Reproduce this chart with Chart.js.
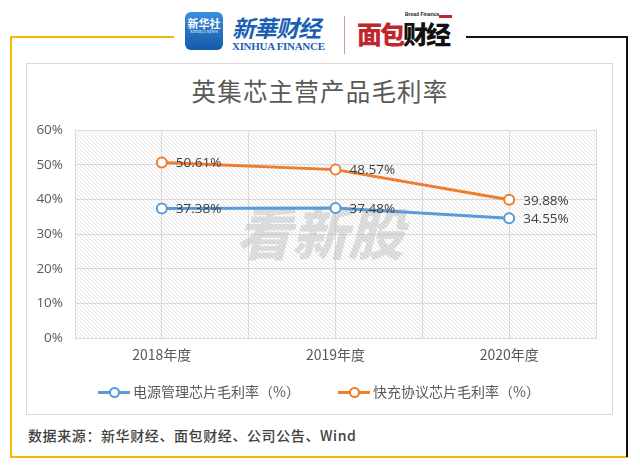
<!DOCTYPE html>
<html>
<head>
<meta charset="utf-8">
<script src="https://cdn.jsdelivr.net/npm/chart.js@4"></script>
<style>
  html, body { margin: 0; padding: 0; background: #fff; }
  body { width: 640px; height: 468px; position: relative; overflow: hidden;
         font-family: "Noto Sans CJK SC", "Noto Sans", sans-serif; }
  .ln { position: absolute; }
  .box { position: absolute; left: 26px; top: 63px; width: 585px; height: 350px;
         border: 1.5px solid #d9d9d9; }
  #chart-wrap { position: absolute; left: 26px; top: 63px; width: 587px; height: 352px; }
  .title { position: absolute; left: 0; width: 640px; top: 73px; text-align: center;
           font-size: 24.5px; color: #595959; letter-spacing: 1.2px; }
  .legend { position: absolute; top: 381px; font-size: 14px; color: #595959; white-space: nowrap; }
  .legend .mk { display: inline-block; position: relative; width: 32px; height: 14px;
                vertical-align: -2px; margin-right: 3px; }
  .legend .mk i { position: absolute; left: 0; right: 0; top: 6px; height: 3px; }
  .legend .mk b { position: absolute; left: 11px; top: 2px; width: 7px; height: 7px;
                  border-radius: 50%; background: #fff; border: 2px solid; }
  .footer { position: absolute; left: 28px; top: 425px; font-size: 14px; color: #404040;
            font-weight: 500; letter-spacing: 0.6px; }
  .xh-box { position: absolute; left: 185px; top: 12px; width: 38px; height: 38px; border-radius: 6px;
            background: linear-gradient(#3d8fe0, #1459a8); color: #fff; text-align: center; }
  .xh-box .a { font-size: 11px; font-weight: bold; margin-top: 5px; line-height: 12px; }
  .xh-box .b { font-size: 4px; line-height: 5px; font-family: "Liberation Serif", serif; }
  .xh-name { position: absolute; left: 232px; top: 10px; font-size: 23px; color: #1a5fb4;
             font-style: italic; font-weight: bold; letter-spacing: -1px; }
  .xh-en { position: absolute; left: 232px; top: 40px; font-size: 11px; color: #1a5fb4;
           font-family: "Liberation Serif", serif; font-weight: bold; letter-spacing: -0.3px; }
  .sep { position: absolute; left: 344px; top: 16px; width: 1px; height: 38px; background: #c8a0a0; }
  .bf-name { position: absolute; left: 357px; top: 15px; font-size: 25px; font-weight: 900; letter-spacing: -2px; }
  .bf-en { position: absolute; left: 405px; top: 12px; font-size: 8px; font-family: "Liberation Sans", sans-serif;
           font-weight: bold; color: #222; transform: scale(0.62); transform-origin: left top; white-space: nowrap; }
  .bf-bar { position: absolute; left: 439px; top: 15px; width: 13px; height: 3px; background: #c0272d; }
</style>
</head>
<body>
<!-- frame -->
<div class="ln" style="left:10px;top:36px;width:164px;height:2px;background:#f5b800"></div>
<div class="ln" style="left:10px;top:36px;width:2px;height:422px;background:#f5b800"></div>
<div class="ln" style="left:10px;top:456px;width:618px;height:2px;background:#f5b800"></div>
<div class="ln" style="left:466px;top:36px;width:162px;height:2px;background:#111"></div>
<div class="ln" style="left:626px;top:36px;width:2px;height:421px;background:#111"></div>

<!-- header logos -->
<div class="xh-box"><div class="a">新华社</div><div class="b">XINHUA NEWS</div></div>
<div class="xh-name">新華财经</div>
<div class="xh-en">XINHUA FINANCE</div>
<div class="sep"></div>
<div class="bf-en">Bread Finance</div>
<div class="bf-bar"></div>
<div class="bf-name"><span style="color:#c0272d">面包</span><span style="color:#111">财经</span></div>

<div class="box"></div>
<div class="title">英集芯主营产品毛利率</div>
<div id="chart-wrap"><canvas id="chart"></canvas></div>

<div class="legend" style="left:98px"><span class="mk"><i style="background:#5b9bd5"></i><b style="border-color:#5b9bd5"></b></span>电源管理芯片毛利率（%）</div>
<div class="legend" style="left:338px"><span class="mk"><i style="background:#ed7d31"></i><b style="border-color:#ed7d31"></b></span>快充协议芯片毛利率（%）</div>

<div class="footer">数据来源：新华财经、面包财经、公司公告、Wind</div>

<script>
// DATA
const categories = ['2018年度', '2019年度', '2020年度'];
const powerChip = [37.38, 37.48, 34.55];      // 电源管理芯片毛利率（%）
const fastCharge = [50.61, 48.57, 39.88];     // 快充协议芯片毛利率（%）
const yTicks = [0, 10, 20, 30, 40, 50, 60];

const COLORS = {
    blue: '#5b9bd5',
    orange: '#ed7d31',
    grid: '#d9d9d9',
    text: '#595959',
    label: '#404040'
};

// diagonal hatch fill for the plot area
function makeHatch(ctx) {
    const c = document.createElement('canvas');
    c.width = 4; c.height = 4;
    const g = c.getContext('2d');
    g.fillStyle = '#fff';
    g.fillRect(0, 0, 4, 4);
    g.strokeStyle = '#e2e2e2';
    g.lineWidth = 1;
    g.beginPath();
    g.moveTo(-1, -1); g.lineTo(5, 5);
    g.moveTo(-1, 3); g.lineTo(1, 5);
    g.moveTo(3, -1); g.lineTo(5, 1);
    g.stroke();
    return ctx.createPattern(c, 'repeat');
}

const backdrop = {
    id: 'backdrop',
    beforeDraw(chart) {
        const { ctx, chartArea: a } = chart;
        ctx.save();
        ctx.fillStyle = makeHatch(ctx);
        ctx.fillRect(a.left, a.top, a.width, a.height);
        ctx.restore();
    },
    beforeDatasetsDraw(chart) {
        // faint watermark
        const { ctx, chartArea: a } = chart;
        ctx.save();
        ctx.font = 'italic 900 56px "Noto Sans CJK SC"';
        ctx.fillStyle = 'rgba(185,185,185,0.45)';
        ctx.textAlign = 'center';
        ctx.textBaseline = 'middle';
        ctx.fillText('看新股', a.left + a.width * 0.47, a.top + a.height * 0.5);
        ctx.restore();
    }
};

const valueLabels = {
    id: 'valueLabels',
    afterDatasetsDraw(chart) {
        const { ctx } = chart;
        ctx.save();
        ctx.font = '13.5px "Open Sans", "Noto Sans", sans-serif';
        ctx.fillStyle = COLORS.label;
        ctx.textBaseline = 'middle';
        chart.data.datasets.forEach((ds, i) => {
            chart.getDatasetMeta(i).data.forEach((pt, j) => {
                ctx.fillText(ds.data[j].y.toFixed(2) + '%', pt.x + 14, pt.y + 1);
            });
        });
        ctx.restore();
    }
};

const toPoints = arr => arr.map((v, i) => ({ x: i, y: v }));

new Chart(document.getElementById('chart'), {
    type: 'line',
    data: {
        datasets: [
            { label: '电源管理芯片毛利率（%）', data: toPoints(powerChip), borderColor: COLORS.blue },
            { label: '快充协议芯片毛利率（%）', data: toPoints(fastCharge), borderColor: COLORS.orange }
        ].map(d => Object.assign(d, {
            borderWidth: 3,
            pointRadius: 5,
            pointBorderWidth: 2,
            pointBackgroundColor: '#fff',
            pointBorderColor: d.borderColor,
            tension: 0
        }))
    },
    options: {
        responsive: true,
        maintainAspectRatio: false,
        animation: false,
        layout: { padding: { top: 67, right: 17, left: 0, bottom: 0 } },
        plugins: {
            legend: { display: false },
            title: { display: false },
            tooltip: { enabled: false }
        },
        scales: {
            x: {
                type: 'linear',
                min: -0.5,
                max: categories.length - 0.5,
                afterBuildTicks: s => { s.ticks = []; for (let v = -0.5; v <= categories.length - 0.5 + 1e-9; v += 0.5) s.ticks.push({ value: v }); },
                afterFit: s => { s.height = 77; },
                grid: { color: COLORS.grid, drawTicks: false },
                border: { color: COLORS.grid },
                ticks: {
                    padding: 8,
                    color: COLORS.text,
                    font: { size: 14, family: '"Noto Sans CJK SC", sans-serif' },
                    autoSkip: false,
                    maxRotation: 0,
                    callback: v => Number.isInteger(v) ? categories[v] : ''
                }
            },
            y: {
                min: yTicks[0],
                max: yTicks[yTicks.length - 1],
                afterBuildTicks: s => { s.ticks = yTicks.map(v => ({ value: v })); },
                afterFit: s => { s.width = 49; },
                grid: { color: COLORS.grid, drawTicks: false },
                border: { display: false },
                ticks: {
                    padding: 12,
                    color: COLORS.text,
                    font: { size: 13.5, family: '"Open Sans", "Noto Sans", sans-serif' },
                    callback: v => v + '%'
                }
            }
        }
    },
    plugins: [backdrop, valueLabels]
});
</script>
</body>
</html>
